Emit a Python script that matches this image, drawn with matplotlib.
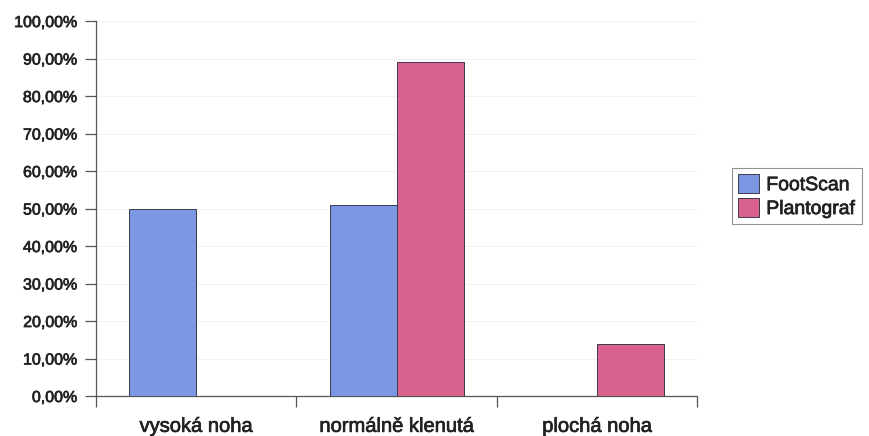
import matplotlib
matplotlib.use("Agg")
import matplotlib.pyplot as plt
import matplotlib.patheffects as pe
from matplotlib.ticker import FuncFormatter, FixedLocator
import numpy as np

categories = ["vysoká noha", "normálně klenutá", "plochá noha"]
footscan = [50.0, 51.0, 0.0]
plantograf = [0.0, 89.0, 14.0]
series_names = ["FootScan", "Plantograf"]
yticks = [0, 10, 20, 30, 40, 50, 60, 70, 80, 90, 100]

plt.rcParams["font.family"] = ["Liberation Sans", "DejaVu Sans"]

fig = plt.figure(figsize=(8.69, 4.36), dpi=100)
ax = fig.add_axes([0.1105, 0.0917, 0.692, 0.860])

x = np.arange(len(categories))
w = 0.335
blue = "#7b96e3"
pink = "#d8618d"
ax.bar(x - w / 2, footscan, w, color=blue, edgecolor="#3a3a4a", linewidth=0.7,
       label=series_names[0], zorder=3)
ax.bar(x + w / 2, plantograf, w, color=pink, edgecolor="#3a3a4a", linewidth=0.7,
       label=series_names[1], zorder=3)

ax.set_xlim(-0.5, len(categories) - 0.5)
ax.set_ylim(0, 100)
ax.set_yticks(yticks)
ax.yaxis.set_major_formatter(FuncFormatter(lambda v, p: f"{v:.2f}%".replace(".", ",")))

# category labels sit between boundary ticks
ax.set_xticks(x)
ax.set_xticklabels(categories, fontsize=14.5, color="#222222")
ax.tick_params(axis="x", length=0, pad=15)
ax.xaxis.set_minor_locator(FixedLocator(np.arange(len(categories) + 1) - 0.5))
ax.tick_params(axis="x", which="minor", length=8, width=0.9, color="#555555", direction="out")
ax.tick_params(axis="y", length=8, width=0.9, color="#555555", direction="out",
               labelsize=11.5, labelcolor="#222222", pad=5.5)

thick = [pe.withStroke(linewidth=0.5, foreground="#222222")]
for lab in ax.get_xticklabels() + ax.get_yticklabels():
    lab.set_path_effects(thick)

for side in ("top", "right"):
    ax.spines[side].set_visible(False)
for side in ("left", "bottom"):
    ax.spines[side].set_color("#555555")
    ax.spines[side].set_linewidth(0.9)

ax.grid(axis="y", color="#f2f2f2", linewidth=0.8, zorder=0)
ax.set_axisbelow(True)

leg = ax.legend(loc="center left", bbox_to_anchor=(1.058, 0.533), fontsize=14,
                frameon=True, fancybox=False, edgecolor="#777777",
                handlelength=1.1, handleheight=1.1, handletextpad=0.35,
                borderpad=0.3, labelspacing=0.2, borderaxespad=0)
leg.get_frame().set_linewidth(0.8)
for t in leg.get_texts():
    t.set_color("#222222")
    t.set_path_effects(thick)

fig.savefig("out.png", dpi=100)
